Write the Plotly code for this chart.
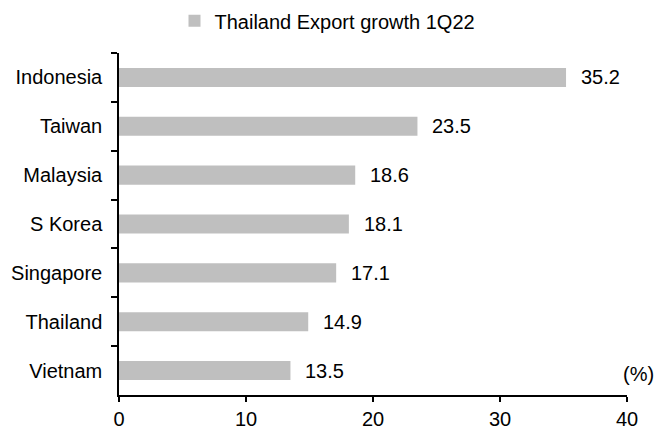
import plotly.graph_objects as go

countries = ["Indonesia", "Taiwan", "Malaysia", "S Korea", "Singapore", "Thailand", "Vietnam"]
growth = [35.2, 23.5, 18.6, 18.1, 17.1, 14.9, 13.5]
x_ticks = [0, 10, 20, 30, 40]
series_name = "Thailand Export growth 1Q22"

FONT = "Liberation Sans, Arial, sans-serif"
FS = 20
BAR = "#bfbfbf"

fig = go.Figure()
fig.add_trace(go.Bar(
    x=growth, y=countries, orientation="h",
    name=series_name, marker=dict(color=BAR, line=dict(width=0)),
    showlegend=True,
))

# value labels to the right of each bar
for c, v in zip(countries, growth):
    fig.add_annotation(x=v, y=c, text=f"{v:.1f}", showarrow=False,
                       xanchor="left", xshift=13, font=dict(size=FS, color="black", family=FONT))

fig.add_annotation(x=1, y=countries[-1], xref="paper", yref="y", text="(%)", showarrow=False,
                   xanchor="right", xshift=29, yshift=-3, font=dict(size=FS, color="black", family=FONT))

fig.update_layout(
    width=655, height=432,
    margin=dict(l=119, r=28, t=53, b=37, autoexpand=False),
    paper_bgcolor="white", plot_bgcolor="white",
    font=dict(family=FONT, size=FS, color="black"),
    bargap=0.61,
    legend=dict(orientation="h", x=0.5, xref="container", xanchor="center",
                y=0.997, yref="container", yanchor="top",
                font=dict(size=FS, family=FONT), itemwidth=30,
                traceorder="normal"),
    xaxis=dict(range=[0, 40], tickvals=x_ticks, showline=True, linecolor="black", linewidth=1.5,
               ticks="outside", ticklen=5, tickcolor="black", tickwidth=1.5, automargin=False,
               showgrid=False, zeroline=False, tickfont=dict(size=FS)),
    yaxis=dict(categoryorder="array", categoryarray=countries, autorange="reversed",
               showline=True, linecolor="black", linewidth=1.5, automargin=False,
               ticks="outside", tickson="boundaries", ticklen=6, tickcolor="black", tickwidth=1.5,
               ticklabelstandoff=11,
               showgrid=False, tickfont=dict(size=FS)),
)

fig.write_html("out.html")
